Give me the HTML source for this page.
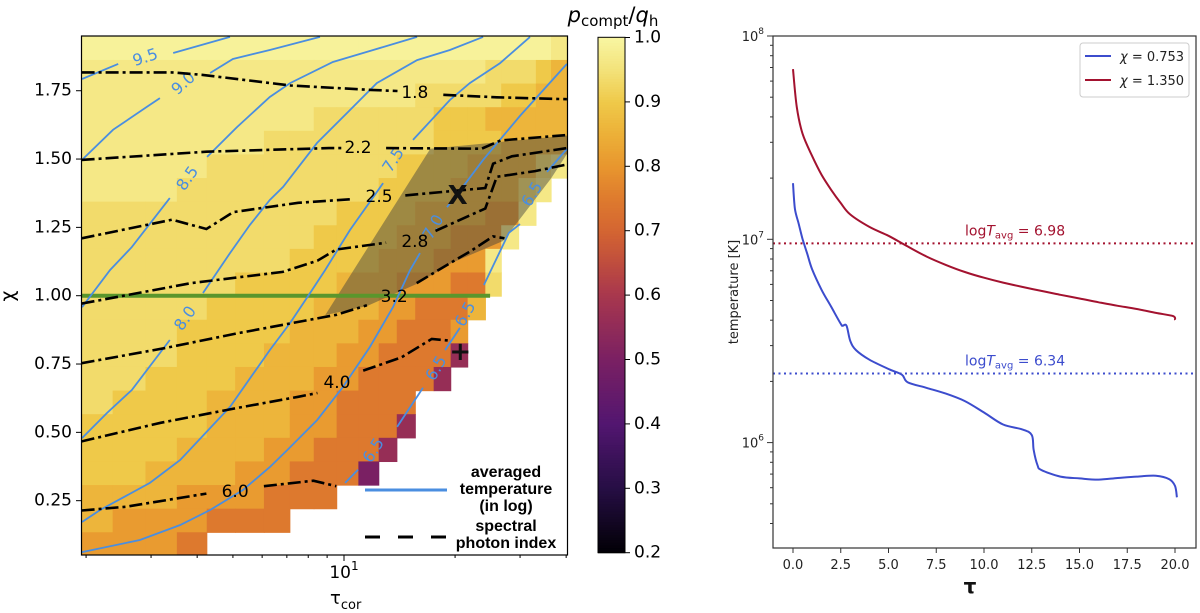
<!DOCTYPE html>
<html><head><meta charset="utf-8">
<style>
html,body{margin:0;padding:0;background:#fff;}
svg{display:block;font-family:"DejaVu Sans","Liberation Sans",sans-serif;}
</style></head>
<body>
<svg id="fig" width="1200" height="613" viewBox="0 0 1200 613" xmlns="http://www.w3.org/2000/svg">
<defs>
<clipPath id="clipL"><rect x="81.5" y="36" width="486" height="519"/></clipPath>
<clipPath id="clipR"><rect x="773" y="36" width="423" height="512"/></clipPath>
</defs>
<g id="left"></g>
<g id="cbar"></g>
<g id="right"></g>
</svg>
<script>
// ---------- LEFT PANEL DATA ----------
const logTauEdges = [0.288,0.373,0.462,0.547,0.628,0.705,0.783,0.853,0.918,0.980,1.039,1.094,1.143,1.193,1.243,1.289,1.335,1.383,1.426,1.473,1.520,1.561,1.606];
const chiRange = [0.048, 1.949];
const heatRows = [
"9999999999999999999998",
"8888888888888888877765",
"8888888888888777776655",
"8888888877777766655555",
"8888887777777766665555",
"8888777777776666555578",
"888777777776666555578",
"77777777766665555448",
"7777777766665554448",
"777777766665554448",
"777776666555444337",
"77776666555443335",
"7776666555443334",
"777666555443333a",
"77666555443333a",
"7666555443333",
"666655544333a",
"66655544333a",
"6655544333b",
"555444333",
"5444333",
"4443"];
const cellValues = {"9":0.99,"8":0.965,"7":0.935,"6":0.9,"5":0.86,"4":0.81,"3":0.745,"a":0.56,"b":0.5};
const gammaLabels = ["1.8","2.2","2.5","2.8","","3.2","4.0","6.0"];
const gammaSegs = [
 [[[.289,1.817],[.534,1.817],[.617,1.808],[.855,1.769],[1.072,1.753],[1.145,1.749]],[[1.269,1.735],[1.414,1.726],[1.604,1.719]]],
 [[[.289,1.497],[.627,1.527],[.959,1.540],[.995,1.540]],[[1.114,1.540],[1.373,1.538],[1.424,1.568],[1.604,1.588]]],
 [[[.289,1.210],[.534,1.278],[.627,1.244],[.700,1.306],[.876,1.340],[1.021,1.353]],[[1.166,1.367],[1.383,1.394],[1.404,1.483],[1.455,1.510],[1.604,1.540]]],
 [[[.289,.971],[.586,1.046],[.834,1.087],[.928,1.128],[.979,1.169],[1.114,1.194]]],
 [[[1.248,1.237],[1.383,1.319],[1.414,1.435],[1.518,1.456],[1.604,1.480]]],
 [[[.289,.753],[.513,.808],[.710,.862],[.979,.930],[1.062,.965]],[[1.197,1.046],[1.290,1.121],[1.342,1.162],[1.404,1.217],[1.435,1.210]]],
 [[[.289,.467],[.503,.535],[.710,.589],[.876,.630],[.928,.644]],[[1.052,.726],[1.155,.774],[1.238,.842],[1.290,.835]]],
 [[[.289,.214],[.410,.228],[.627,.276]],[[.783,.303],[.917,.323],[.979,.303]]]
];
const gammaLabelPos = [[1.192,1.742],[1.038,1.540],[1.095,1.361],[1.192,1.196],null,[1.136,0.995],[0.981,0.681],[0.705,0.282]];
const tempLevels = ["9.5","9.0","8.5","8.0","7.5","7.0","6.5"];
const tempSegs = [
 [[[.290,1.793],[.388,1.848]],[[.537,1.888],[.691,1.947]]],
 [[[.290,1.497],[.374,1.607],[.466,1.691],[.501,1.723]],[[.637,1.815],[.699,1.866],[.799,1.899],[.935,1.947]]],
 [[[.290,.958],[.366,1.094],[.425,1.178],[.528,1.357]],[[.629,1.508],[.710,1.617],[.799,1.727],[.854,1.778],[.970,1.855],[1.079,1.899],[1.198,1.947]]],
 [[[.290,.479],[.358,.571],[.425,.655],[.528,.838]],[[.618,1.010],[.691,1.156],[.745,1.259],[.799,1.350],[.835,1.398],[.927,1.559],[1.016,1.679],[1.089,1.778],[1.198,1.862],[1.287,1.899],[1.377,1.947]]],
 [[[.290,.172],[.339,.216],[.474,.315],[.556,.399],[.691,.593],[.799,.801],[.854,.900],[.908,1.010],[.949,1.094],[1.016,1.240],[1.106,1.412]],[[1.187,1.570],[1.287,1.716],[1.341,1.778],[1.423,1.851],[1.504,1.947]]],
 [[[.290,.062],[.447,.106],[.556,.161],[.637,.216],[.726,.289],[.799,.373],[.846,.435],[.927,.545],[.997,.666],[1.070,.812],[1.133,.959],[1.179,1.094],[1.206,1.156]],[[1.279,1.324],[1.322,1.398],[1.377,1.497],[1.477,1.658],[1.604,1.848]]],
 [[[1.003,.315],[1.038,.363]],[[1.144,.520],[1.214,.663]],[[1.274,.801],[1.314,.882]],[[1.379,1.039],[1.447,1.230],[1.477,1.262]],[[1.550,1.453],[1.604,1.537]]]
];
const tempLabelPos = [[[.461,1.873,-18]],[[.564,1.778,-42]],[[.575,1.430,-55]],[[.569,.918,-55]],[[1.133,1.497,-57]],[[1.241,1.252,-60]],
 [[1.079,.435,-58],[1.249,.735,-60],[1.328,.933,-62],[1.509,1.372,-60]]];
const shadeRegion = [[.949,.929],[1.234,1.538],[1.606,1.586],[1.606,1.522],[1.561,1.429],[1.431,1.200],[1.292,1.120],[1.198,1.044],[1.062,.962]];
const greenLine = [[.288,1.0],[1.396,1.0]];
const markX = [1.308,1.364];
const markPlus = [1.315,0.794];
const xMinorTicks = [2,3,4,5,6,7,8,9,20,30,40];
const yTicks = [0.25,0.50,0.75,1.00,1.25,1.50,1.75];
const cbarTicks = [1.0,0.9,0.8,0.7,0.6,0.5,0.4,0.3,0.2];

// ---------- RIGHT PANEL DATA ----------
const tauRed = [0,0.2,0.5,1,1.5,2,2.5,3,4,5,6,7,8,9,10,11,12,13,14,15,16,17,18,19,19.9,20];
const logTempRed = [7.837,7.65,7.52,7.41,7.317,7.243,7.178,7.122,7.061,7.017,6.965,6.915,6.874,6.839,6.811,6.787,6.766,6.746,6.727,6.709,6.69,6.673,6.657,6.638,6.622,6.603];
const tauBlue = [0,0.1,0.3,0.5,0.75,1,1.5,2,2.5,2.6,2.8,3.0,3.3,4,5,5.7,6,7,8,9,10,11,12,12.5,12.6,12.8,13,14,15,16,17,18,19,19.7,20,20.1];
const logTempBlue = [7.276,7.15,7.076,7.002,6.928,6.853,6.751,6.668,6.584,6.575,6.575,6.50,6.455,6.408,6.362,6.334,6.297,6.269,6.241,6.204,6.148,6.089,6.065,6.037,5.963,5.889,5.865,5.833,5.824,5.818,5.826,5.833,5.837,5.82,5.787,5.731];
const avgLogT = [6.98, 6.34];
const avgLabels = ["6.98","6.34"];
const xTicksR = [0,2.5,5,7.5,10,12.5,15,17.5,20];
const yMajorR = [6,7,8];

// ---------- helpers ----------
const NS="http://www.w3.org/2000/svg";
function mk(parent, tag, attrs, text){const e=document.createElementNS(NS,tag);for(const k in attrs)e.setAttribute(k,attrs[k]);if(text!==undefined)e.textContent=text;parent.appendChild(e);return e;}
const xL = lt => 344 + (lt-1)*369;
const yL = c => 295.7 - (c-1)*273.3;
const xR = t => 793 + t*19.1;
const yR = lg => 442.6 - (lg-6)*203.3;
const cmapStops=[[0.2,[1,0,5]],[0.3,[38,14,68]],[0.4,[82,22,112]],[0.5,[122,32,99]],[0.6,[168,55,78]],[0.65,[191,77,62]],[0.7,[212,101,50]],[0.75,[222,123,46]],[0.8,[232,150,46]],[0.85,[236,176,56]],[0.9,[239,201,73]],[0.95,[243,226,122]],[1.0,[248,246,162]]];
function cmap(v){v=Math.max(0.2,Math.min(1,v));for(let i=1;i<cmapStops.length;i++){const [a,ca]=cmapStops[i-1],[b,cb]=cmapStops[i];if(v<=b){const f=(v-a)/(b-a);return `rgb(${ca.map((c,j)=>Math.round(c+(cb[j]-c)*f)).join(',')})`;}}return 'rgb(248,246,162)';}
const pts=(arr,fx,fy)=>arr.map(p=>fx(p[0]).toFixed(1)+','+fy(p[1]).toFixed(1)).join(' ');
function smoothPath(P){let d='M'+P[0][0].toFixed(1)+','+P[0][1].toFixed(1);
  for(let i=0;i<P.length-1;i++){const p0=P[i-1]||P[i],p1=P[i],p2=P[i+1],p3=P[i+2]||p2;
    const c1=[p1[0]+(p2[0]-p0[0])/6,p1[1]+(p2[1]-p0[1])/6],c2=[p2[0]-(p3[0]-p1[0])/6,p2[1]-(p3[1]-p1[1])/6];
    d+=` C${c1[0].toFixed(1)},${c1[1].toFixed(1)} ${c2[0].toFixed(1)},${c2[1].toFixed(1)} ${p2[0].toFixed(1)},${p2[1].toFixed(1)}`;}
  return d;}

// ---------- LEFT PANEL ----------
const L=document.getElementById('left');
const plotL=mk(L,'g',{'clip-path':'url(#clipL)'});


const nRows=heatRows.length, rowH=(chiRange[1]-chiRange[0])/nRows;
heatRows.forEach((row,r)=>{
  const cTop=chiRange[1]-r*rowH, cBot=cTop-rowH;
  for(let c=0;c<row.length;c++){
    const x0=xL(logTauEdges[c]), x1=xL(logTauEdges[c+1]);
    const cell=mk(plotL,'rect',{x:x0.toFixed(2),y:yL(cTop).toFixed(2),width:(x1-x0+0.6).toFixed(2),height:(yL(cBot)-yL(cTop)+0.6).toFixed(2),fill:cmap(cellValues[row[c]])});
    
    
  }
});
const shade=mk(plotL,'polygon',{points:pts(shadeRegion,xL,yL),fill:'rgb(60,60,60)','fill-opacity':'0.45'});


const gl=mk(plotL,'polyline',{points:pts(greenLine,xL,yL),stroke:'#5a962c','stroke-width':'4',fill:'none'});


tempSegs.forEach((segs,i)=>{
  segs.forEach(s=>{const pl=mk(plotL,'polyline',{points:pts(s,xL,yL),stroke:'#4a8ee0','stroke-width':'1.8',fill:'none'});
    
    });
  tempLabelPos[i].forEach(p=>{const t=mk(plotL,'text',{x:xL(p[0]),y:yL(p[1]),transform:`rotate(${p[2]} ${xL(p[0])} ${yL(p[1])})`,'text-anchor':'middle','dominant-baseline':'central','font-size':'16',fill:'#4a8ee0'},tempLevels[i]);
    
    });
});
gammaSegs.forEach((segs,i)=>{
  segs.forEach(s=>{const pl=mk(plotL,'polyline',{points:pts(s,xL,yL),stroke:'#000','stroke-width':'2.6',fill:'none','stroke-dasharray':'13 4 3 4'});
    
    });
  const p=gammaLabelPos[i];
  if(p){const t=mk(plotL,'text',{x:xL(p[0]),y:yL(p[1]),'text-anchor':'middle','dominant-baseline':'central','font-size':'17',fill:'#000'},gammaLabels[i]);
    
    }
});
const mx=mk(plotL,'text',{x:xL(markX[0]),y:yL(markX[1]),'text-anchor':'middle','dominant-baseline':'central','font-size':'26','font-weight':'bold',fill:'#111'},'X');


const mp=mk(plotL,'text',{x:xL(markPlus[0]),y:yL(markPlus[1]),'text-anchor':'middle','dominant-baseline':'central','font-size':'26','font-weight':'bold',fill:'#111'},'+');


// legend inside left plot
const lg=mk(L,'g',{});


mk(lg,'line',{x1:365,y1:490,x2:447,y2:490,stroke:'#4a8ee0','stroke-width':'3'});
mk(lg,'line',{x1:365,y1:537,x2:447,y2:537,stroke:'#000','stroke-width':'3','stroke-dasharray':'15 18'});
[["averaged",477],["temperature",494],["(in log)",511],["spectral",531],["photon index",548]].forEach(a=>{
  const t=mk(lg,'text',{x:506,y:a[1],'text-anchor':'middle','font-size':'16','font-weight':'bold',fill:'#000','font-family':'Liberation Sans, sans-serif'},a[0]);
  
  
});
// axes frame
const fr=mk(L,'rect',{x:81.5,y:36,width:486,height:519,fill:'none',stroke:'#000','stroke-width':'1.2'});


yTicks.forEach(v=>{const y=yL(v);mk(L,'line',{x1:76,y1:y,x2:81.5,y2:y,stroke:'#000','stroke-width':'1'});
  const t=mk(L,'text',{x:72,y:y,'text-anchor':'end','dominant-baseline':'central','font-size':'17',fill:'#000'},v.toFixed(2));
  
  });
xMinorTicks.forEach(v=>{const x=xL(Math.log10(v));mk(L,'line',{x1:x,y1:555,x2:x,y2:558,stroke:'#000','stroke-width':'1'});});
mk(L,'line',{x1:344,y1:555,x2:344,y2:561,stroke:'#000','stroke-width':'1'});
const xt=mk(L,'text',{x:344,y:578,'text-anchor':'middle','font-size':'17',fill:'#000'});
xt.innerHTML='10<tspan dy="-8" font-size="12">1</tspan>';


const xlab=mk(L,'text',{x:330,y:604,'font-size':'18',fill:'#000'});
xlab.innerHTML='τ<tspan dy="5" font-size="13">cor</tspan>';


const ylab=mk(L,'text',{x:14,y:296,'text-anchor':'middle','font-size':'19',fill:'#000',transform:'rotate(-90 14 296)'},'χ');



// ---------- COLORBAR ----------
const CB=document.getElementById('cbar');
const cbY=v=>552.7-(v-0.2)*644;
for(let i=0;i<200;i++){const v0=0.2+i*0.004;mk(CB,'rect',{x:598,y:cbY(v0+0.004).toFixed(2),width:27,height:(0.004*644+0.5).toFixed(2),fill:cmap(v0+0.002)});}
mk(CB,'rect',{x:598,y:37.3,width:27,height:515.4,fill:'none',stroke:'#000','stroke-width':'1'});
cbarTicks.forEach(v=>{const y=cbY(v);mk(CB,'line',{x1:625,y1:y,x2:630,y2:y,stroke:'#000','stroke-width':'1'});
  const t=mk(CB,'text',{x:634,y:y,'dominant-baseline':'central','font-size':'17',fill:'#000'},v.toFixed(1));
  
  });
const cbt=mk(CB,'text',{x:613,y:22,'text-anchor':'middle','font-size':'21',fill:'#000'});
cbt.innerHTML='<tspan font-style="italic">p</tspan><tspan dy="4" font-size="15">compt</tspan><tspan dy="-4">/</tspan><tspan font-style="italic">q</tspan><tspan dy="4" font-size="15">h</tspan>';



// ---------- RIGHT PANEL ----------
const R=document.getElementById('right');
const plotR=mk(R,'g',{'clip-path':'url(#clipR)'});


const colors=['#a3122f','#3c4ccd'];
avgLogT.forEach((v,i)=>{const l=mk(plotR,'line',{x1:773,x2:1196,y1:yR(v),y2:yR(v),stroke:colors[i],'stroke-width':'2','stroke-dasharray':'2 3.5'});
  
  
  const t=mk(R,'text',{x:965,y:yR(v)-8,'font-size':'14',fill:colors[i]});
  t.innerHTML='log<tspan font-style="italic">T</tspan><tspan dy="3" font-size="10">avg</tspan><tspan dy="-3"> = '+avgLabels[i]+'</tspan>';
  
  });
const redP=mk(plotR,'path',{d:smoothPath(tauRed.map((t,i)=>[xR(t),yR(logTempRed[i])])),stroke:colors[0],'stroke-width':'2',fill:'none'});


const blueP=mk(plotR,'path',{d:smoothPath(tauBlue.map((t,i)=>[xR(t),yR(logTempBlue[i])])),stroke:colors[1],'stroke-width':'2',fill:'none'});


const frR=mk(R,'rect',{x:773,y:36,width:423,height:512,fill:'none',stroke:'#333','stroke-width':'1.2'});


xTicksR.forEach(v=>{const x=xR(v);mk(R,'line',{x1:x,y1:548,x2:x,y2:553,stroke:'#333'});
  const t=mk(R,'text',{x:x,y:569,'text-anchor':'middle','font-size':'13',fill:'#222'},v.toFixed(1));
  
  });
yMajorR.forEach(v=>{const y=yR(v);mk(R,'line',{x1:767,y1:y,x2:773,y2:y,stroke:'#333'});
  const t=mk(R,'text',{x:764,y:y+5,'text-anchor':'end','font-size':'13',fill:'#222'});
  t.innerHTML='10<tspan dy="-7" font-size="9">'+v+'</tspan>';
  
  });
[5,6,7].forEach(d=>{for(let m=2;m<10;m++){const lgv=d+Math.log10(m);const y=yR(lgv);if(y>548||y<36)continue;mk(R,'line',{x1:770,y1:y,x2:773,y2:y,stroke:'#333'});}});
const ylR=mk(R,'text',{x:738,y:292,'text-anchor':'middle','font-size':'13',fill:'#222',transform:'rotate(-90 738 292)'},'temperature [K]');


const xlR=mk(R,'text',{x:970,y:593,'text-anchor':'middle','font-size':'20','font-weight':'bold',fill:'#111'},'τ');


const leg=mk(R,'g',{});


mk(leg,'rect',{x:1080,y:43,width:109,height:54,rx:3,fill:'#fff',stroke:'#ccc','stroke-width':'1'});
[['0.753',colors[1],56],['1.350',colors[0],80]].forEach(a=>{
  mk(leg,'line',{x1:1085,x2:1111,y1:a[2],y2:a[2],stroke:a[1],'stroke-width':'2'});
  const t=mk(leg,'text',{x:1120,y:a[2]+5,'font-size':'13',fill:'#222'});
  t.innerHTML='<tspan font-style="italic">χ</tspan> = '+a[0];
  
  
});
</script>
</body></html>
